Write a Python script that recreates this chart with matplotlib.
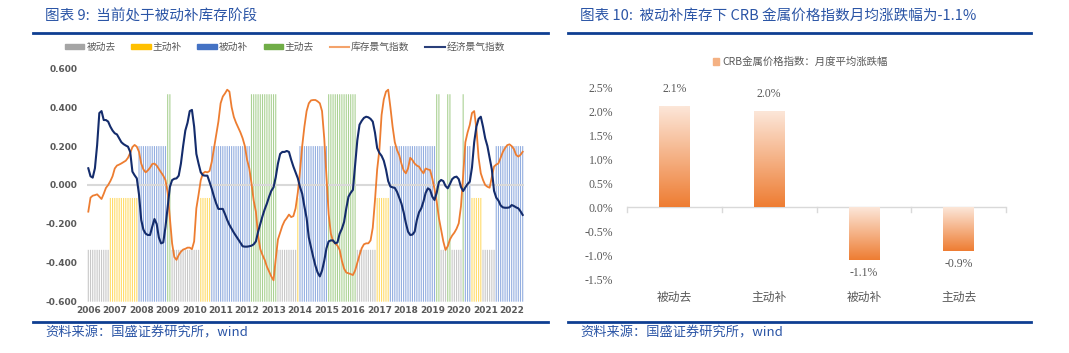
import numpy as np
import matplotlib
matplotlib.use("Agg")
import matplotlib.pyplot as plt
from matplotlib.patches import Patch
from matplotlib.lines import Line2D
from matplotlib.colors import LinearSegmentedColormap

plt.rcParams["font.family"] = ["Noto Sans CJK SC", "DejaVu Sans"]

# ---- left chart data: monthly, Jan 2006 .. Jun 2022 ----
years = list(range(2006, 2023))
stage_names = ["被动去", "主动补", "被动补", "主动去"]
stage_levels = [1, 2, 3, 4]          # secondary-axis height of each stage bar

run_stage = ["被动去", "主动补", "被动补", "主动去", "被动去", "主动补", "被动补", "主动去",
             "被动去", "主动补", "被动补", "主动去", "被动去", "主动补", "被动补", "主动去",
             "被动去", "主动去", "被动去", "主动去", "被动补", "主动补", "被动去", "被动补"]
run_months = [10, 13, 13, 2, 13, 5, 18, 12,
              9, 1, 13, 13, 9, 6, 21, 2,
              3, 2, 5, 1, 3, 5, 6, 13]

economy_index = [
    0.086, 0.045, 0.038, 0.086, 0.205, 0.370, 0.380, 0.334, 0.334, 0.326, 0.300, 0.280,
    0.266, 0.260, 0.240, 0.220, 0.210, 0.203, 0.197, 0.170, 0.069, 0.050, 0.034, -0.050,
    -0.180, -0.230, -0.250, -0.257, -0.257, -0.214, -0.175, -0.200, -0.270, -0.300, -0.295, -0.215,
    -0.110, -0.010, 0.025, 0.032, 0.034, 0.048, 0.110, 0.200, 0.280, 0.320, 0.380, 0.386,
    0.300, 0.160, 0.110, 0.065, 0.050, 0.048, 0.048, 0.015, -0.020, -0.060, -0.095, -0.123,
    -0.123, -0.123, -0.150, -0.180, -0.205, -0.225, -0.245, -0.262, -0.280, -0.297, -0.315, -0.317,
    -0.317, -0.315, -0.312, -0.305, -0.290, -0.240, -0.200, -0.160, -0.125, -0.095, -0.060, -0.030,
    -0.012, 0.040, 0.110, 0.160, 0.170, 0.170, 0.175, 0.170, 0.130, 0.095, 0.065, 0.035,
    -0.010, -0.045, -0.110, -0.170, -0.270, -0.320, -0.370, -0.415, -0.450, -0.470, -0.440, -0.390,
    -0.326, -0.290, -0.285, -0.285, -0.300, -0.295, -0.250, -0.225, -0.190, -0.120, -0.060, -0.040,
    -0.025, 0.100, 0.230, 0.310, 0.330, 0.345, 0.351, 0.348, 0.340, 0.326, 0.270, 0.190,
    0.165, 0.150, 0.125, 0.080, 0.020, -0.008, -0.012, -0.015, -0.035, -0.065, -0.095, -0.140,
    -0.195, -0.240, -0.257, -0.255, -0.240, -0.180, -0.140, -0.120, -0.085, -0.040, -0.017, -0.025,
    -0.060, -0.077, -0.040, 0.015, 0.026, 0.020, -0.005, -0.017, 0.005, 0.030, 0.040, 0.043,
    0.030, -0.010, -0.031, -0.012, 0.005, 0.017, 0.090, 0.220, 0.300, 0.340, 0.351, 0.300,
    0.240, 0.200, 0.140, 0.080, -0.030, -0.065, -0.080, -0.105, -0.115, -0.117, -0.117, -0.115,
    -0.103, -0.108, -0.115, -0.120, -0.135, -0.154,
]

inventory_index = [
    -0.137, -0.065, -0.055, -0.052, -0.048, -0.060, -0.072, -0.045, -0.015, 0.000, 0.020, 0.045,
    0.085, 0.100, 0.105, 0.111, 0.118, 0.125, 0.140, 0.165, 0.195, 0.206, 0.197, 0.170,
    0.110, 0.080, 0.065, 0.075, 0.089, 0.108, 0.110, 0.100, 0.082, 0.065, 0.048, 0.025,
    -0.040, -0.170, -0.300, -0.370, -0.385, -0.360, -0.343, -0.332, -0.328, -0.322, -0.322, -0.330,
    -0.290, -0.120, -0.050, 0.025, 0.060, 0.068, 0.065, 0.072, 0.120, 0.189, 0.260, 0.326,
    0.420, 0.455, 0.471, 0.490, 0.480, 0.400, 0.350, 0.320, 0.295, 0.270, 0.240, 0.200,
    0.130, 0.086, 0.010, -0.080, -0.137, -0.260, -0.330, -0.360, -0.385, -0.420, -0.445, -0.470,
    -0.490, -0.380, -0.280, -0.245, -0.210, -0.185, -0.170, -0.152, -0.165, -0.160, -0.120, -0.040,
    0.070, 0.200, 0.300, 0.380, 0.420, 0.435, 0.437, 0.437, 0.430, 0.420, 0.380, 0.240,
    0.040, -0.150, -0.250, -0.290, -0.300, -0.312, -0.334, -0.390, -0.430, -0.450, -0.454, -0.458,
    -0.463, -0.440, -0.400, -0.360, -0.325, -0.305, -0.300, -0.300, -0.285, -0.220, -0.080, 0.080,
    0.180, 0.360, 0.440, 0.480, 0.490, 0.400, 0.300, 0.220, 0.180, 0.154, 0.110, 0.075,
    0.060, 0.085, 0.140, 0.128, 0.110, 0.100, 0.094, 0.075, 0.060, 0.085, 0.080, 0.077,
    0.034, -0.020, -0.086, -0.170, -0.230, -0.290, -0.334, -0.315, -0.280, -0.260, -0.245, -0.225,
    -0.197, -0.110, 0.050, 0.220, 0.270, 0.309, 0.370, 0.380, 0.290, 0.140, 0.060, 0.026,
    0.000, -0.009, -0.014, 0.040, 0.095, 0.105, 0.111, 0.140, 0.170, 0.190, 0.205, 0.209,
    0.200, 0.185, 0.155, 0.146, 0.155, 0.171,
]

# ---- right chart data ----
crb_stages = ["被动去", "主动补", "被动补", "主动去"]
crb_change = [2.1, 2.0, -1.1, -0.9]
crb_ticks = [2.5, 2.0, 1.5, 1.0, 0.5, 0.0, -0.5, -1.0, -1.5]

BLUE_TXT = "#2B55A6"
RULE = "#0E3E92"
GREY_TXT = "#595959"
stage_colors = {"被动去": "#a5a5a5", "主动补": "#ffc000", "被动补": "#4472c4", "主动去": "#70ad47"}
bar_colors = {"被动去": "#c8c8c8", "主动补": "#ffdc6a", "被动补": "#93aee0", "主动去": "#aad193"}
SERIF = ["Liberation Serif", "Noto Sans CJK SC"]

fig = plt.figure(figsize=(10.69, 3.53), dpi=100)

# titles, rules, sources
fig.text(45 / 1069, 1 - 16 / 353, "图表 9:  当前处于被动补库存阶段", color=BLUE_TXT,
         fontsize=10.5, style="italic", va="center", ha="left")
fig.text(580 / 1069, 1 - 16 / 353, "图表 10:  被动补库存下 CRB 金属价格指数月均涨跌幅为-1.1%",
         color=BLUE_TXT, fontsize=10.5, style="italic", va="center", ha="left")
for yy in (33, 322):
    fig.add_artist(Line2D([33 / 1069, 548 / 1069], [1 - yy / 353] * 2, color=RULE, lw=2))
    fig.add_artist(Line2D([568 / 1069, 1031 / 1069], [1 - yy / 353] * 2, color=RULE, lw=2))
fig.text(45 / 1069, 1 - 333 / 353, "资料来源：国盛证券研究所，wind", color=BLUE_TXT,
         fontsize=9.5, style="italic", va="center", ha="left")
fig.text(580 / 1069, 1 - 333 / 353, "资料来源：国盛证券研究所，wind", color=BLUE_TXT,
         fontsize=9.5, style="italic", va="center", ha="left")

# ---- left chart ----
months = np.arange(len(economy_index))
stage_by_month = np.repeat(run_stage, run_months)
level_of = dict(zip(stage_names, stage_levels))

ax = fig.add_axes([87.2 / 1069, 1 - 301.7 / 353, 436.6 / 1069, 233.4 / 353])
ax2 = ax.twinx()
bars = ax2.bar(months, [level_of[s] for s in stage_by_month], width=0.5,
               color=[bar_colors[s] for s in stage_by_month], linewidth=0)
for b in bars:
    b.set_snap(False)
ax2.set_ylim(0, 4.5)
ax2.axis("off")
ax.set_zorder(ax2.get_zorder() + 1)
ax.patch.set_visible(False)

ax.axhline(0, color="#d9d9d9", lw=1.5, zorder=1)
ax.plot(months, inventory_index, color="#ed7d31", lw=1.3, zorder=3)
ax.plot(months, economy_index, color="#142c6c", lw=1.5, zorder=4)
ax.set_xlim(-0.5, len(months) - 0.5)
ax.set_ylim(-0.6, 0.6)
ax.set_yticks([0.6, 0.4, 0.2, 0.0, -0.2, -0.4, -0.6])
ax.set_yticklabels([f"{v:.3f}" for v in [0.6, 0.4, 0.2, 0.0, -0.2, -0.4, -0.6]])
ax.set_xticks([(y - 2006) * 12 for y in years])
ax.set_xticklabels([str(y) for y in years])
ax.tick_params(length=0, labelsize=6.5, labelcolor=GREY_TXT, pad=3)
ax.tick_params(axis="y", pad=7)
for lab in ax.get_xticklabels() + ax.get_yticklabels():
    lab.set_fontweight("bold")
    lab.set_family(["DejaVu Sans"])
for sp in ax.spines.values():
    sp.set_visible(False)

handles = [Patch(color=stage_colors[s]) for s in stage_names]
handles += [Line2D([], [], color="#f4a36b", lw=1.5), Line2D([], [], color="#2a3f7a", lw=1.5)]
fig.legend(handles, stage_names + ["库存景气指数", "经济景气指数"], ncol=6, frameon=False,
           loc="center", bbox_to_anchor=(285 / 1069, 1 - 47 / 353), fontsize=7,
           labelcolor=GREY_TXT, handlelength=2.0, handleheight=0.45, handletextpad=0.2,
           columnspacing=1.6)

# ---- right chart ----
bx = fig.add_axes([627 / 1069, 1 - 279.3 / 353, 379 / 1069, 191.5 / 353])
cmap = LinearSegmentedColormap.from_list("grad", ["#ee7d33", "#fce6d8"])
grad = np.linspace(0, 1, 100).reshape(-1, 1)
w = 0.32
for i, v in enumerate(crb_change):
    lo, hi = min(0, v), max(0, v)
    bx.imshow(grad, extent=[i - w / 2, i + w / 2, lo, hi], origin="lower", cmap=cmap,
              aspect="auto", zorder=2)
    if v > 0:
        bx.text(i, v + 0.25, f"{v:.1f}%", ha="center", va="bottom", fontsize=8.5,
                color=GREY_TXT, family=SERIF)
    else:
        bx.text(i, v - 0.15, f"-{abs(v):.1f}%", ha="center", va="top", fontsize=8.5,
                color=GREY_TXT, family=SERIF)
bx.set_xlim(-0.5, len(crb_change) - 0.5)
bx.set_ylim(-1.5, 2.5)
bx.axhline(0, color="#d9d9d9", lw=1.0, zorder=1)
for b in np.arange(-0.5, len(crb_change), 1.0):
    bx.plot([b, b], [0, -0.09], color="#d9d9d9", lw=1.0, zorder=1, clip_on=False)
bx.set_yticks(crb_ticks)
bx.set_yticklabels([f"{t:.1f}%" if t >= 0 else f"-{abs(t):.1f}%" for t in crb_ticks],
                   family=SERIF)
bx.set_xticks(range(len(crb_stages)))
bx.set_xticklabels(crb_stages, fontsize=9)
bx.tick_params(length=0, labelsize=8.5, labelcolor=GREY_TXT, pad=10)
bx.tick_params(axis="x", pad=8)
for sp in bx.spines.values():
    sp.set_visible(False)

fig.legend([Patch(color="#f4b183")], ["CRB金属价格指数：月度平均涨跌幅"], frameon=False,
           loc="center", bbox_to_anchor=(800 / 1069, 1 - 62 / 353), fontsize=7.5,
           labelcolor=GREY_TXT, handlelength=0.6, handleheight=0.6, handletextpad=0.3)

fig.savefig("out.png", dpi=100)
